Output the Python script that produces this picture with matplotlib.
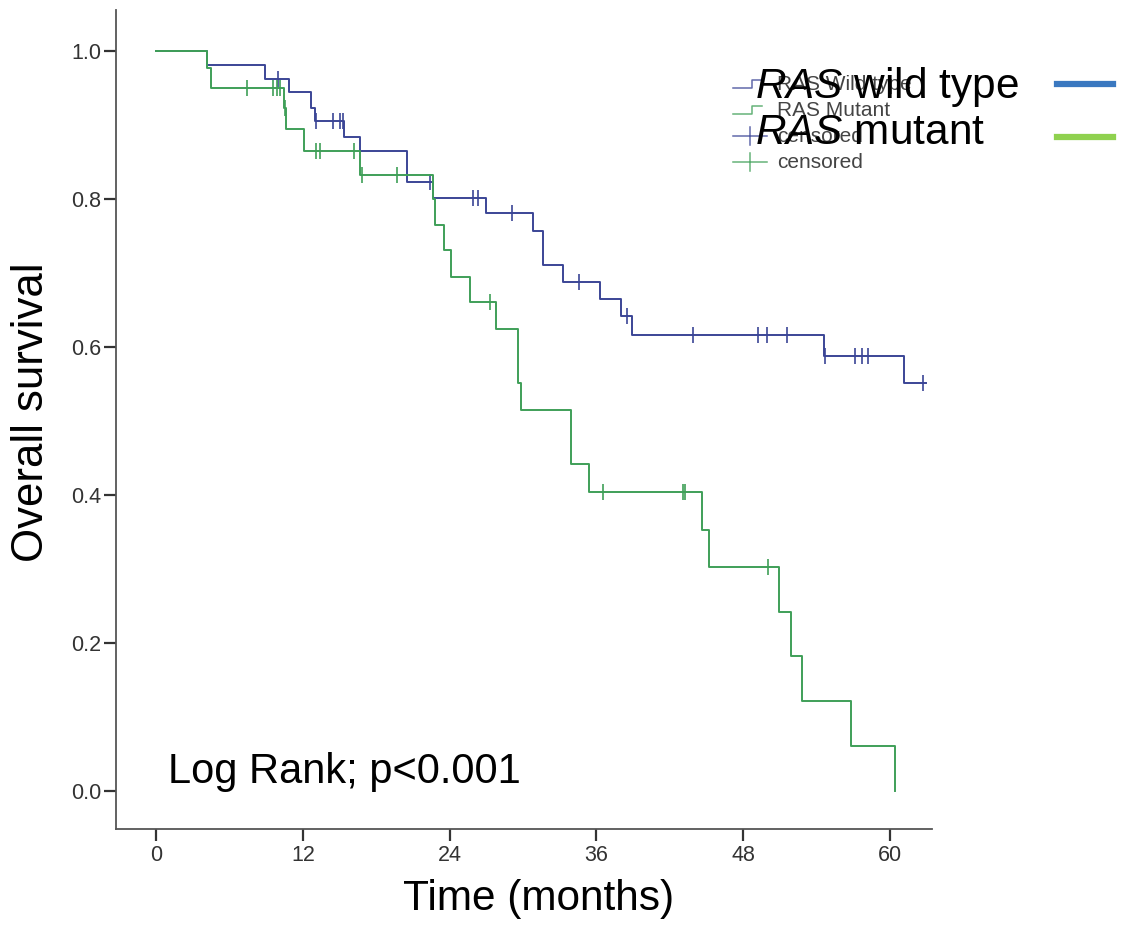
import numpy as np
import matplotlib.pyplot as plt
from matplotlib.lines import Line2D

plt.rcParams['font.family'] = ['Liberation Sans', 'DejaVu Sans']
plt.rcParams['mathtext.fontset'] = 'custom'
plt.rcParams['mathtext.it'] = 'Liberation Sans:italic'
plt.rcParams['mathtext.rm'] = 'Liberation Sans'

# Kaplan-Meier steps: (time in months, survival after the step)
wild_times = [4.2, 8.9, 10.9, 12.7, 13.0, 15.4, 16.7, 20.5, 22.6, 27.0, 30.8,
              31.6, 33.3, 36.3, 38.0, 38.9, 54.6, 61.1]
wild_surv = [0.981, 0.962, 0.944, 0.923, 0.905, 0.883, 0.864, 0.823, 0.801, 0.781,
             0.757, 0.711, 0.688, 0.665, 0.641, 0.616, 0.587, 0.551]
wild_censor = [10.0, 13.05, 14.5, 15.0, 15.3, 22.4, 25.9, 26.3, 29.1, 34.6, 38.5,
               43.9, 49.2, 49.9, 51.6, 54.7, 57.1, 57.7, 58.2, 62.7]

mut_times = [4.2, 4.5, 10.45, 10.65, 12.1, 16.7, 22.6, 22.8, 23.5, 24.1, 25.7,
             27.8, 29.6, 29.8, 33.9, 35.4, 44.6, 45.2, 50.9, 51.9, 52.8, 56.8, 60.4]
mut_surv = [0.976, 0.949, 0.922, 0.894, 0.864, 0.832, 0.800, 0.765, 0.731, 0.694,
            0.660, 0.624, 0.551, 0.515, 0.441, 0.404, 0.353, 0.303, 0.242, 0.182,
            0.121, 0.061, 0.0]
mut_censor = [7.4, 9.6, 9.9, 10.1, 10.55, 13.1, 13.4, 16.2, 16.8, 19.7, 27.3,
              36.5, 43.1, 43.2, 50.0]

x_ticks = [0, 12, 24, 36, 48, 60]
y_ticks = [0.0, 0.2, 0.4, 0.6, 0.8, 1.0]

BLUE = '#3b4596'
GREEN = '#3f9f58'
LEG_BLUE = '#3a78c0'
LEG_GREEN = '#8fd14f'
AXC = '#555555'

W, H = 1126, 926


def level_at(times, surv, t):
    lvl = 1.0
    for tt, s in zip(times, surv):
        if tt <= t:
            lvl = s
    return lvl


def fx(px):
    return px / W


def fy(py):
    return 1 - py / H


fig = plt.figure(figsize=(W / 100, H / 100), dpi=100)
ax = fig.add_axes([fx(116), fy(829.3), (931.7 - 116) / W, (829.3 - 10) / H])

for times, surv, cens, col, end in [(wild_times, wild_surv, wild_censor, BLUE, 62.9),
                                    (mut_times, mut_surv, mut_censor, GREEN, None)]:
    xs = [0] + times
    ys = [1.0] + surv
    if end is not None:
        xs = xs + [end]
        ys = ys + [ys[-1]]
    ax.step(xs, ys, where='post', color=col, lw=1.4)
    cy = [level_at(times, surv, c) for c in cens]
    ax.plot(cens, cy, ls='none', marker='|', ms=11, mew=1.2, color=col)

ax.set_xlim(-3.27, 63.4)
ax.set_ylim(-0.052, 1.055)
ax.set_xticks(x_ticks)
ax.set_xticklabels([str(t) for t in x_ticks])
ax.set_yticks(y_ticks)
ax.set_yticklabels([f'{v:.1f}' for v in y_ticks])
for s in ['top', 'right']:
    ax.spines[s].set_visible(False)
for s in ['left', 'bottom']:
    ax.spines[s].set_color(AXC)
    ax.spines[s].set_linewidth(1.3)
ax.tick_params(direction='out', length=8.5, width=1.6, color='#333333',
               labelsize=15.5, labelcolor='#333333')
ax.tick_params(axis='y', pad=2)
ax.tick_params(axis='x', pad=3)

fig.text(fx(539), fy(899), 'Time (months)', fontsize=30.5, ha='center', va='center')
fig.text(fx(32), fy(412), 'Overall survival', fontsize=31.5, ha='center', va='center',
         rotation=90)
ax.text(0.064, 0.07, 'Log Rank; p<0.001', transform=ax.transAxes, fontsize=30,
        ha='left', va='center')

# small SPSS legend
rows = [84, 110, 136, 162]
small = ['RAS Wild type', 'RAS Mutant', 'censored', 'censored']
cols = [BLUE, GREEN, BLUE, GREEN]
for i, (yy, lab, c) in enumerate(zip(rows, small, cols)):
    if i < 2:
        xs = [fx(733), fx(752), fx(752), fx(762)]
        ys = [fy(yy + 4), fy(yy + 4), fy(yy - 4), fy(yy - 4)]
        fig.add_artist(Line2D(xs, ys, color=c, lw=1.1, alpha=0.8))
    else:
        fig.add_artist(Line2D([fx(733), fx(767)], [fy(yy), fy(yy)], color=c, lw=1.1, alpha=0.8))
        fig.add_artist(Line2D([fx(750), fx(750)], [fy(yy - 9), fy(yy + 9)], color=c, lw=1.1, alpha=0.8))
    fig.text(fx(777), fy(yy), lab, fontsize=15, color='#444444', ha='left', va='center')

# overlaid large legend
fig.text(fx(755), fy(87), r'$\mathit{RAS}$ wild type', fontsize=30.5, ha='left', va='center')
fig.text(fx(755), fy(133), r'$\mathit{RAS}$ mutant', fontsize=30.5, ha='left', va='center')
fig.add_artist(Line2D([fx(1057), fx(1113)], [fy(84), fy(84)], color=LEG_BLUE, lw=4.5))
fig.add_artist(Line2D([fx(1057), fx(1113)], [fy(137), fy(137)], color=LEG_GREEN, lw=4.5))

fig.savefig('out.png', dpi=100)
